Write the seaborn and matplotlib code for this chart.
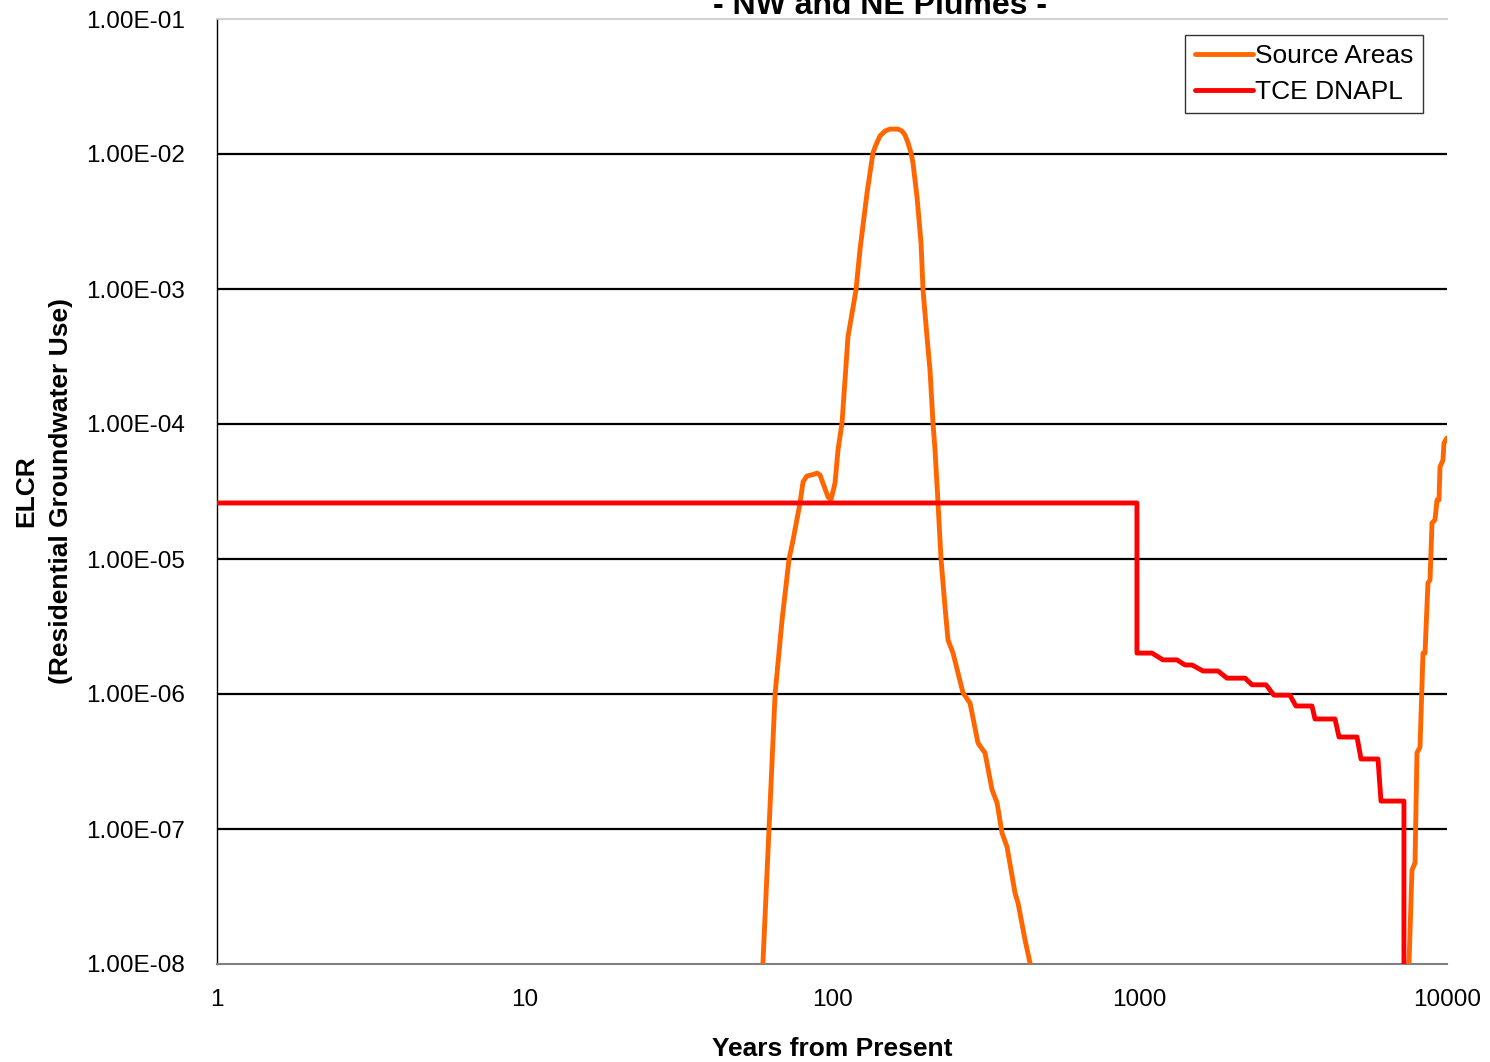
import numpy as np
import pandas as pd
import matplotlib
matplotlib.use("Agg")
import matplotlib.pyplot as plt
import matplotlib.ticker as mticker
import seaborn as sns

# ---- data ----
red_years = [1, 981, 981, 1098, 1192, 1324, 1406, 1482, 1610, 1800, 1926, 2205, 2322,
             2578, 2737, 3084, 3226, 3638, 3722, 4324, 4455, 5098, 5253, 5965, 6100,
             7244, 7244]
red_elcr = [2.6e-5, 2.6e-5, 2.01e-6, 2.01e-6, 1.79e-6, 1.79e-6, 1.64e-6, 1.64e-6,
            1.48e-6, 1.48e-6, 1.31e-6, 1.31e-6, 1.17e-6, 1.17e-6, 9.8e-7, 9.8e-7,
            8.15e-7, 8.15e-7, 6.53e-7, 6.53e-7, 4.8e-7, 4.8e-7, 3.3e-7, 3.3e-7,
            1.61e-7, 1.61e-7, 1e-10]

orange_years = [59.6, 62.4, 65.3, 68.8, 72.5, 74.7, 78.7, 80.5, 82.9, 86.1, 89.4, 91.4,
                94.2, 97.1, 99.2, 102.3, 104.6, 107.8, 112.7, 119.7, 123.3, 130.0, 135.9,
                139.0, 143.2, 148.8, 154.4, 163.9, 168.9, 172.8, 176.6, 180.7, 183.4,
                189.0, 194.8, 197.7, 203.7,
                208.3, 213.0, 216.3, 221.2, 226.2, 233.1, 238.4, 247.5, 266.7, 281.1,
                298.4, 314.6, 331.5, 344.2, 357.2, 370.9, 393.7, 402.7, 424.3, 440.5,
                450.0, 7450, 7694, 7870, 7987, 8170, 8356, 8482, 8670, 8805, 8938, 9142,
                9280, 9419, 9489, 9705, 9775, 10000]
orange_elcr = [1e-8, 1e-7, 1e-6, 3.53e-6, 1e-5, 1.38e-5, 2.6e-5, 3.72e-5, 4.12e-5, 4.2e-5,
               4.33e-5, 4.19e-5, 3.47e-5, 2.88e-5, 2.74e-5, 3.66e-5, 6.41e-5, 1.02e-4,
               4.41e-4, 9.84e-4, 1.95e-3, 5.14e-3, 1.02e-2,
               1.17e-2, 1.36e-2, 1.48e-2, 1.53e-2, 1.53e-2, 1.48e-2, 1.38e-2, 1.21e-2,
               1.02e-2, 8.58e-3, 4.80e-3, 2.19e-3, 9.84e-4, 4.41e-4,
               2.51e-4, 1.02e-4, 6.41e-5, 2.6e-5, 1e-5, 4.41e-6, 2.51e-6, 2.01e-6,
               1.02e-6, 8.57e-7, 4.33e-7, 3.66e-7, 1.95e-7, 1.56e-7, 9.34e-8, 7.36e-8,
               3.36e-8, 2.83e-8, 1.51e-8, 1.02e-8, 5e-9, 5e-9, 4.97e-8, 5.6e-8, 3.66e-7,
               4.05e-7, 2.01e-6, 2.01e-6, 6.64e-6, 6.99e-6, 1.85e-5, 1.95e-5, 2.74e-5,
               2.74e-5, 4.80e-5, 5.41e-5, 7.23e-5, 7.87e-5]

series_names = ["Source Areas", "TCE DNAPL"]
series_colors = ["#FF6600", "#FF0000"]
x_ticks = [1, 10, 100, 1000, 10000]
y_ticks = [1e-8, 1e-7, 1e-6, 1e-5, 1e-4, 1e-3, 1e-2, 1e-1]

df = pd.concat([
    pd.DataFrame({"Years": orange_years, "ELCR": orange_elcr, "Series": series_names[0]}),
    pd.DataFrame({"Years": red_years, "ELCR": red_elcr, "Series": series_names[1]}),
], ignore_index=True)

sns.set_style("white")
plt.rcParams["font.family"] = ["Liberation Sans", "DejaVu Sans"]
plt.rcParams["text.color"] = "black"
plt.rcParams["axes.labelcolor"] = "black"
plt.rcParams["xtick.color"] = "black"
plt.rcParams["ytick.color"] = "black"

fig = plt.figure(figsize=(14.9, 10.62), dpi=100)
ax = fig.add_axes([217 / 1490, 1 - 964 / 1062, 1230 / 1490, 945 / 1062])

ax.set_xscale("log")
ax.set_yscale("log")
ax.set_xlim(1, 10000)
ax.set_ylim(1e-8, 1e-1)

for yt in y_ticks[1:-1]:
    ax.axhline(yt, color="black", lw=1.6, zorder=1)

sns.lineplot(data=df, x="Years", y="ELCR", hue="Series", hue_order=series_names,
             palette=series_colors, sort=False, estimator=None, units="Series",
             lw=3.5, ax=ax, zorder=3)

ax.xaxis.set_major_locator(mticker.FixedLocator(x_ticks))
ax.xaxis.set_minor_locator(mticker.NullLocator())
ax.xaxis.set_major_formatter(mticker.FixedFormatter([str(v) for v in x_ticks]))
ax.yaxis.set_major_locator(mticker.FixedLocator(y_ticks))
ax.yaxis.set_minor_locator(mticker.NullLocator())
ax.yaxis.set_major_formatter(mticker.FuncFormatter(lambda v, p: "%.2E" % v))

ax.tick_params(axis="both", which="major", direction="out", length=5.8, width=1,
               labelsize=17.5, labelcolor="black")
ax.tick_params(axis="x", colors="#808080", labelcolor="black", pad=12)
ax.tick_params(axis="y", colors="black", pad=17)

ax.spines["left"].set_color("black")
ax.spines["left"].set_linewidth(1.0)
ax.spines["bottom"].set_color("#808080")
ax.spines["bottom"].set_linewidth(1.5)
ax.spines["top"].set_color("#c8c8c8")
ax.spines["top"].set_linewidth(1.2)
ax.spines["right"].set_visible(False)

ax.set_xlabel("Years from Present", fontsize=19, fontweight="bold", labelpad=19,
              color="black")
ax.set_ylabel("ELCR\n(Residential Groundwater Use)", fontsize=19, fontweight="bold",
              labelpad=10, linespacing=1.55, color="black")

fig.text(880 / 1490, 1 - 14 / 1062, "- NW and NE Plumes -", ha="center", va="baseline",
         fontsize=23, fontweight="bold", color="black")

leg = ax.legend(loc="upper right", bbox_to_anchor=((1423 - 217) / 1230, (964 - 35) / 945),
                borderaxespad=0, fontsize=19, frameon=True, fancybox=False,
                handlelength=2.2, handletextpad=0.1, borderpad=0.35, labelspacing=0.45)
leg.get_frame().set_edgecolor("black")
leg.get_frame().set_linewidth(1.0)
for t in leg.get_texts():
    t.set_color("black")
for h in leg.get_lines():
    h.set_linewidth(3.5)

fig.savefig("out.png", dpi=100)
